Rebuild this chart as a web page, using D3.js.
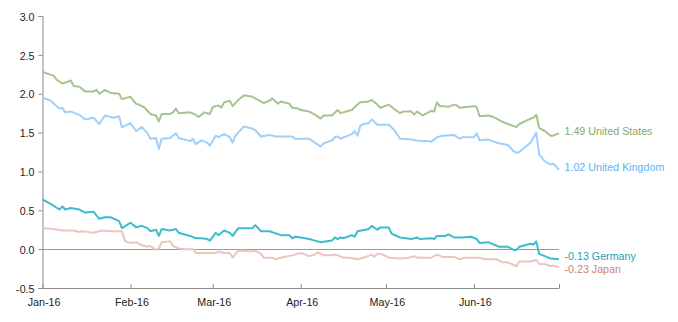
<!DOCTYPE html>
<html>
<head>
<meta charset="utf-8">
<script src="https://cdn.jsdelivr.net/npm/d3@7"></script>
<style>
  body { margin: 0; background: #fff; }
  svg { display: block; font-family: "Liberation Sans", Arial, sans-serif; }
</style>
</head>
<body>
<svg id="chart" width="678" height="322"></svg>
<script>
// 10-year government bond yields (%), 2016 H1. Dates are MM-DD within YEAR.
const YEAR = 2016;

const usYields = [["01-01",2.28],["01-05",2.23],["01-06",2.18],["01-08",2.13],["01-11",2.17],["01-12",2.10],["01-14",2.09],["01-16",2.03],["01-19",2.03],["01-20",2.05],["01-21",2.00],["01-23",2.05],["01-25",2.01],["01-28",2.00],["01-29",1.93],["02-01",1.96],["02-03",1.87],["02-04",1.86],["02-06",1.82],["02-08",1.74],["02-10",1.72],["02-11",1.64],["02-12",1.74],["02-15",1.74],["02-16",1.76],["02-17",1.81],["02-18",1.75],["02-22",1.76],["02-24",1.73],["02-25",1.70],["02-27",1.76],["02-29",1.74],["03-01",1.83],["03-03",1.85],["03-04",1.82],["03-05",1.89],["03-07",1.91],["03-08",1.84],["03-10",1.92],["03-12",1.98],["03-15",1.96],["03-16",1.94],["03-19",1.88],["03-21",1.91],["03-22",1.94],["03-24",1.87],["03-25",1.90],["03-28",1.87],["03-29",1.82],["03-31",1.81],["04-01",1.79],["04-04",1.77],["04-05",1.75],["04-06",1.73],["04-08",1.68],["04-09",1.72],["04-12",1.72],["04-14",1.79],["04-15",1.75],["04-19",1.79],["04-21",1.86],["04-22",1.89],["04-25",1.90],["04-26",1.92],["04-28",1.86],["04-29",1.82],["05-02",1.86],["05-04",1.80],["05-06",1.75],["05-07",1.77],["05-10",1.77],["05-11",1.73],["05-12",1.77],["05-14",1.72],["05-17",1.78],["05-18",1.77],["05-19",1.89],["05-20",1.84],["05-22",1.84],["05-23",1.83],["05-25",1.86],["05-26",1.85],["05-27",1.82],["06-01",1.84],["06-02",1.83],["06-03",1.71],["06-06",1.72],["06-08",1.70],["06-11",1.64],["06-13",1.61],["06-16",1.57],["06-17",1.61],["06-21",1.68],["06-22",1.69],["06-23",1.73],["06-24",1.56],["06-26",1.52],["06-28",1.46],["06-29",1.46],["07-01",1.49]];

const ukYields = [["01-01",1.95],["01-04",1.91],["01-05",1.87],["01-07",1.81],["01-08",1.82],["01-09",1.76],["01-11",1.77],["01-13",1.74],["01-14",1.73],["01-16",1.67],["01-19",1.69],["01-21",1.61],["01-23",1.72],["01-26",1.69],["01-28",1.71],["01-29",1.57],["02-01",1.62],["02-03",1.52],["02-05",1.57],["02-07",1.49],["02-08",1.42],["02-10",1.43],["02-11",1.29],["02-12",1.42],["02-15",1.43],["02-17",1.49],["02-18",1.43],["02-22",1.39],["02-23",1.42],["02-24",1.35],["02-26",1.40],["02-28",1.37],["02-29",1.33],["03-02",1.46],["03-03",1.44],["03-05",1.48],["03-07",1.44],["03-08",1.37],["03-09",1.46],["03-12",1.58],["03-15",1.55],["03-16",1.53],["03-18",1.45],["03-21",1.47],["03-23",1.45],["03-29",1.45],["03-30",1.42],["04-01",1.42],["04-04",1.42],["04-06",1.37],["04-08",1.32],["04-09",1.36],["04-12",1.40],["04-13",1.44],["04-14",1.45],["04-15",1.42],["04-19",1.48],["04-20",1.52],["04-21",1.46],["04-22",1.59],["04-23",1.61],["04-25",1.62],["04-26",1.67],["04-28",1.60],["05-02",1.60],["05-04",1.53],["05-06",1.42],["05-10",1.41],["05-13",1.39],["05-16",1.39],["05-17",1.38],["05-19",1.44],["05-21",1.46],["05-25",1.47],["05-27",1.42],["05-28",1.44],["06-01",1.44],["06-02",1.49],["06-03",1.40],["06-06",1.41],["06-09",1.37],["06-13",1.34],["06-15",1.26],["06-16",1.24],["06-17",1.25],["06-21",1.37],["06-23",1.50],["06-24",1.22],["06-26",1.13],["06-28",1.09],["06-29",1.10],["07-01",1.02]];

const deYields = [["01-01",0.64],["01-04",0.58],["01-07",0.51],["01-08",0.55],["01-09",0.51],["01-11",0.53],["01-14",0.51],["01-16",0.47],["01-19",0.48],["01-21",0.39],["01-23",0.41],["01-25",0.41],["01-28",0.36],["01-29",0.27],["02-01",0.34],["02-03",0.28],["02-05",0.30],["02-07",0.27],["02-08",0.23],["02-10",0.25],["02-11",0.17],["02-12",0.26],["02-15",0.24],["02-17",0.26],["02-18",0.21],["02-22",0.17],["02-24",0.14],["02-26",0.14],["02-28",0.13],["02-29",0.11],["03-02",0.21],["03-03",0.18],["03-05",0.24],["03-07",0.21],["03-08",0.17],["03-10",0.27],["03-15",0.27],["03-16",0.31],["03-18",0.23],["03-21",0.23],["03-25",0.18],["03-28",0.18],["03-29",0.14],["03-30",0.16],["04-01",0.15],["04-04",0.13],["04-06",0.11],["04-08",0.09],["04-12",0.11],["04-13",0.15],["04-14",0.13],["04-15",0.15],["04-16",0.14],["04-19",0.18],["04-20",0.16],["04-21",0.23],["04-25",0.26],["04-26",0.30],["04-28",0.25],["04-29",0.28],["05-02",0.28],["05-03",0.20],["05-06",0.15],["05-10",0.13],["05-12",0.15],["05-13",0.13],["05-17",0.14],["05-18",0.13],["05-19",0.17],["05-22",0.17],["05-23",0.19],["05-25",0.15],["05-28",0.15],["05-31",0.16],["06-02",0.13],["06-03",0.08],["06-06",0.09],["06-08",0.06],["06-10",0.03],["06-13",0.03],["06-15",-0.01],["06-16",-0.01],["06-17",0.03],["06-21",0.07],["06-22",0.06],["06-23",0.10],["06-24",-0.06],["06-26",-0.09],["06-28",-0.12],["07-01",-0.13]];

const jpYields = [["01-01",0.27],["01-05",0.26],["01-08",0.24],["01-12",0.24],["01-14",0.22],["01-15",0.23],["01-19",0.21],["01-22",0.24],["01-25",0.23],["01-29",0.23],["01-30",0.11],["01-31",0.09],["02-02",0.08],["02-03",0.09],["02-05",0.05],["02-07",0.03],["02-08",0.04],["02-10",-0.01],["02-11",0.01],["02-12",0.09],["02-15",0.10],["02-16",0.04],["02-18",0.01],["02-20",0.00],["02-23",0.00],["02-24",-0.05],["03-02",-0.05],["03-03",-0.03],["03-05",-0.05],["03-07",-0.05],["03-08",-0.11],["03-10",-0.02],["03-12",-0.02],["03-14",-0.03],["03-16",-0.02],["03-18",-0.06],["03-19",-0.11],["03-22",-0.11],["03-23",-0.13],["03-26",-0.10],["03-29",-0.08],["03-31",-0.06],["04-01",-0.05],["04-02",-0.06],["04-04",-0.09],["04-06",-0.07],["04-07",-0.04],["04-09",-0.08],["04-12",-0.08],["04-13",-0.07],["04-14",-0.08],["04-16",-0.11],["04-18",-0.11],["04-21",-0.13],["04-22",-0.12],["04-24",-0.10],["04-26",-0.07],["04-27",-0.10],["04-28",-0.06],["04-30",-0.07],["05-02",-0.11],["05-06",-0.12],["05-09",-0.11],["05-11",-0.09],["05-12",-0.11],["05-17",-0.11],["05-19",-0.07],["05-21",-0.10],["05-25",-0.10],["05-27",-0.13],["05-29",-0.11],["06-01",-0.11],["06-03",-0.11],["06-05",-0.13],["06-09",-0.13],["06-11",-0.17],["06-13",-0.17],["06-16",-0.22],["06-17",-0.16],["06-21",-0.16],["06-23",-0.14],["06-24",-0.19],["06-26",-0.19],["06-28",-0.22],["06-29",-0.21],["07-01",-0.23]];

const seriesNames = ["United States", "United Kingdom", "Germany", "Japan"];
const yTickValues = [-0.5, 0, 0.5, 1.0, 1.5, 2.0, 2.5, 3.0];
const xTickMonths = ["01", "02", "03", "04", "05", "06", "07"];

// Styling
const lineColors  = ["#a7c38e", "#9fd0fb", "#3cbdcd", "#ecc5be"];
const labelColors = ["#8aa868", "#66b2f2", "#1c9db7", "#d3826e"];
const labelNudge  = [-2, -3, -3, 2];

const parse = d3.timeParse("%Y-%m-%d");
const toDate = md => parse(`${YEAR}-${md}`);

const series = [usYields, ukYields, deYields, jpYields].map((vals, i) => ({
  name: seriesNames[i],
  values: vals.map(([d, v]) => ({ date: toDate(d), value: v })),
  color: lineColors[i],
  labelColor: labelColors[i],
  nudge: labelNudge[i]
}));

const svg = d3.select("#chart");
const plotLeft = 42.5, plotRight = 559, plotTop = 16, plotBottom = 288;

const x = d3.scaleTime()
  .domain([toDate("01-01"), toDate("07-01")])
  .range([plotLeft, plotRight]);
const y = d3.scaleLinear()
  .domain([-0.5, 3.0])
  .range([plotBottom, plotTop]);

const axisColor = "#8c8c8c";
const fontSize = "10.7px";

// Zero line
svg.append("line")
  .attr("x1", plotLeft).attr("x2", plotRight)
  .attr("y1", Math.round(y(0)) + 0.5).attr("y2", Math.round(y(0)) + 0.5)
  .attr("stroke", "#9a9a9a").attr("stroke-width", 1);

// Y axis
const yAxis = d3.axisLeft(y)
  .tickValues(yTickValues)
  .tickSize(4)
  .tickPadding(4)
  .tickFormat(d => d.toFixed(1));
const gy = svg.append("g")
  .attr("transform", `translate(${plotLeft},0)`)
  .call(yAxis);
gy.select(".domain").attr("stroke", axisColor);
gy.selectAll(".tick line").attr("stroke", axisColor);
gy.selectAll(".tick text")
  .attr("fill", "#222").style("font-size", fontSize)
  .style("font-family", '"Liberation Sans", Arial, sans-serif')
  .attr("dy", "0.4em");

// X axis: ticks point up into the plot, month labels below
const xTicks = xTickMonths.map(m => toDate(`${m}-01`));
const xAxis = d3.axisBottom(x)
  .tickValues(xTicks)
  .tickSize(-4)
  .tickPadding(10)
  .tickSizeOuter(0)
  .tickFormat(d => d.getMonth() === 6 ? "" : d3.timeFormat("%b-%y")(d));
const gx = svg.append("g")
  .attr("transform", `translate(0,${plotBottom})`)
  .call(xAxis);
gx.select(".domain").attr("stroke", axisColor);
gx.selectAll(".tick line").attr("stroke", axisColor);
gx.selectAll(".tick text")
  .attr("fill", "#222").style("font-size", fontSize)
  .style("font-family", '"Liberation Sans", Arial, sans-serif')
  .attr("dx", 1);

// Series lines
const line = d3.line()
  .x(d => x(d.date))
  .y(d => y(d.value));

svg.append("g").selectAll("path")
  .data(series)
  .join("path")
  .attr("d", d => line(d.values))
  .attr("fill", "none")
  .attr("stroke", d => d.color)
  .attr("stroke-width", 2)
  .attr("stroke-linejoin", "round");

// End-of-series labels
svg.append("g").selectAll("text")
  .data(series)
  .join("text")
  .attr("x", plotRight + 5.5)
  .attr("y", d => y(d.values[d.values.length - 1].value) + d.nudge)
  .attr("dy", "0.35em")
  .attr("fill", d => d.labelColor)
  .style("font-size", fontSize)
  .text(d => `${d.values[d.values.length - 1].value.toFixed(2)} ${d.name}`);
</script>
</body>
</html>
